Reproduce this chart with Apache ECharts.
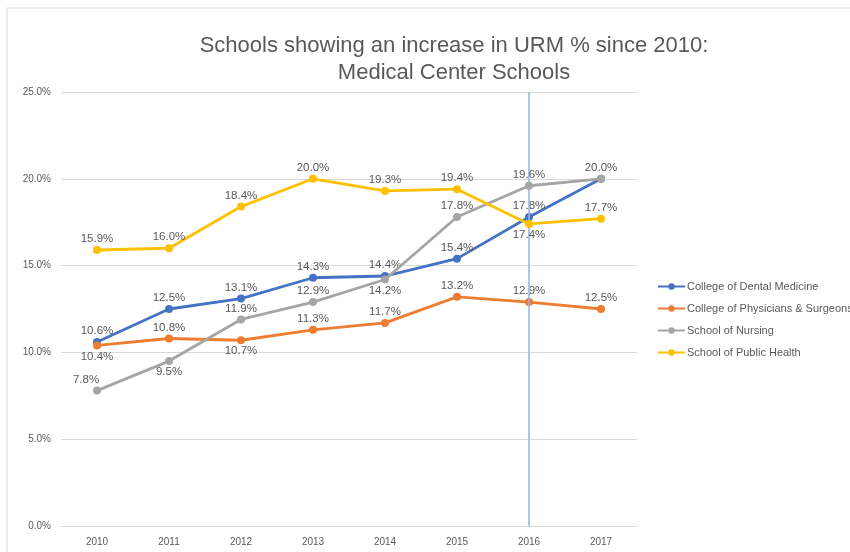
<!DOCTYPE html>
<html><head><meta charset="utf-8">
<script src="https://cdn.jsdelivr.net/npm/echarts@6/dist/echarts.min.js"></script>
<style>html,body{margin:0;padding:0;background:#fff}#c{width:850px;height:552px}</style>
</head><body><div id="c"></div>
<script>
const years = ['2010','2011','2012','2013','2014','2015','2016','2017'];
const seriesNames = ['College of Dental Medicine','College of Physicians & Surgeons','School of Nursing','School of Public Health'];
const dental = [10.6, 12.5, 13.1, 14.3, 14.4, 15.4, 17.8, 20.0];
const physicians = [10.4, 10.8, 10.7, 11.3, 11.7, 13.2, 12.9, 12.5];
const nursing = [7.8, 9.5, 11.9, 12.9, 14.2, 17.8, 19.6, 20.0];
const publicHealth = [15.9, 16.0, 18.4, 20.0, 19.3, 19.4, 17.4, 17.7];
const yTicks = [0, 5, 10, 15, 20, 25];
const dentalPos = ['top','top','top','top','top','top','top','top'];
const physPos = ['bottom','top','bottom','top','top','top','top','top'];
const nursPos = ['topLeft','bottom','top','top','bottom','top','top','none'];
const phPos = ['top','top','top','top','top','top','bottom','top'];
const colors = ['#4472C4','#ED7D31','#A5A5A5','#FFC000'];
const markYear = '2016';

const FONT = 'Liberation Sans';
function mk(vals, pos){
  return vals.map((v,i)=>{
    const p = pos[i];
    if (p==='none') return {value:v, label:{show:false}};
    if (p==='topLeft') return {value:v, label:{position:'top', offset:[-11,0]}};
    return {value:v, label:{position:p}};
  });
}
const chart = echarts.init(document.getElementById('c'));
const all = [dental, physicians, nursing, publicHealth];
const poss = [dentalPos, physPos, nursPos, phPos];
const series = all.map((vals,k)=>({
  name: seriesNames[k], type:'line', data: mk(vals, poss[k]),
  symbol:'circle', symbolSize:8,
  lineStyle:{width:2.8, color:colors[k]},
  itemStyle:{color:colors[k]},
  label:{show:true, formatter:p=>p.value.toFixed(1)+'%', color:'#595959', fontSize:11.5, fontFamily:FONT, distance:1},
  z: 3+k
}));
series[0].markLine = {silent:true, symbol:'none', label:{show:false},
  lineStyle:{color:'#9DB5E5', width:1.6, type:'solid', opacity:1},
  emphasis:{disabled:true},
  data:[{xAxis:markYear}]};
chart.setOption({
  animation:false,
  color: colors,
  graphic:[{type:'rect', shape:{x:7,y:8,width:900,height:600}, style:{fill:'none', stroke:'#d9d9d9', lineWidth:1}, z:-1}],
  title:{text:'Schools showing an increase in URM % since 2010:\nMedical Center Schools', left:449, textAlign:'center', top:27,
    textStyle:{fontFamily:FONT, fontWeight:'normal', fontSize:22, color:'#595959', lineHeight:27}},
  legend:{orient:'vertical', left:652, top:276, itemWidth:27, itemHeight:8, itemGap:11,
    textStyle:{fontFamily:FONT, fontSize:11, color:'#595959', padding:[0,0,0,-3]}, data:seriesNames},
  grid:{left:61, right:213, top:92, bottom:26},
  xAxis:{type:'category', data:years, boundaryGap:true,
    axisLine:{lineStyle:{color:'#d9d9d9'}}, axisTick:{show:false},
    axisLabel:{color:'#595959', fontSize:10, fontFamily:FONT, margin:11}},
  yAxis:{type:'value', min:0, max:25, interval:5,
    axisLine:{show:false}, axisTick:{show:false},
    splitLine:{lineStyle:{color:'#d9d9d9'}},
    axisLabel:{color:'#595959', fontSize:10, fontFamily:FONT, margin:10, formatter:v=>yTicks.includes(v)?v.toFixed(1)+'%':''}},
  series
});
</script></body></html>
